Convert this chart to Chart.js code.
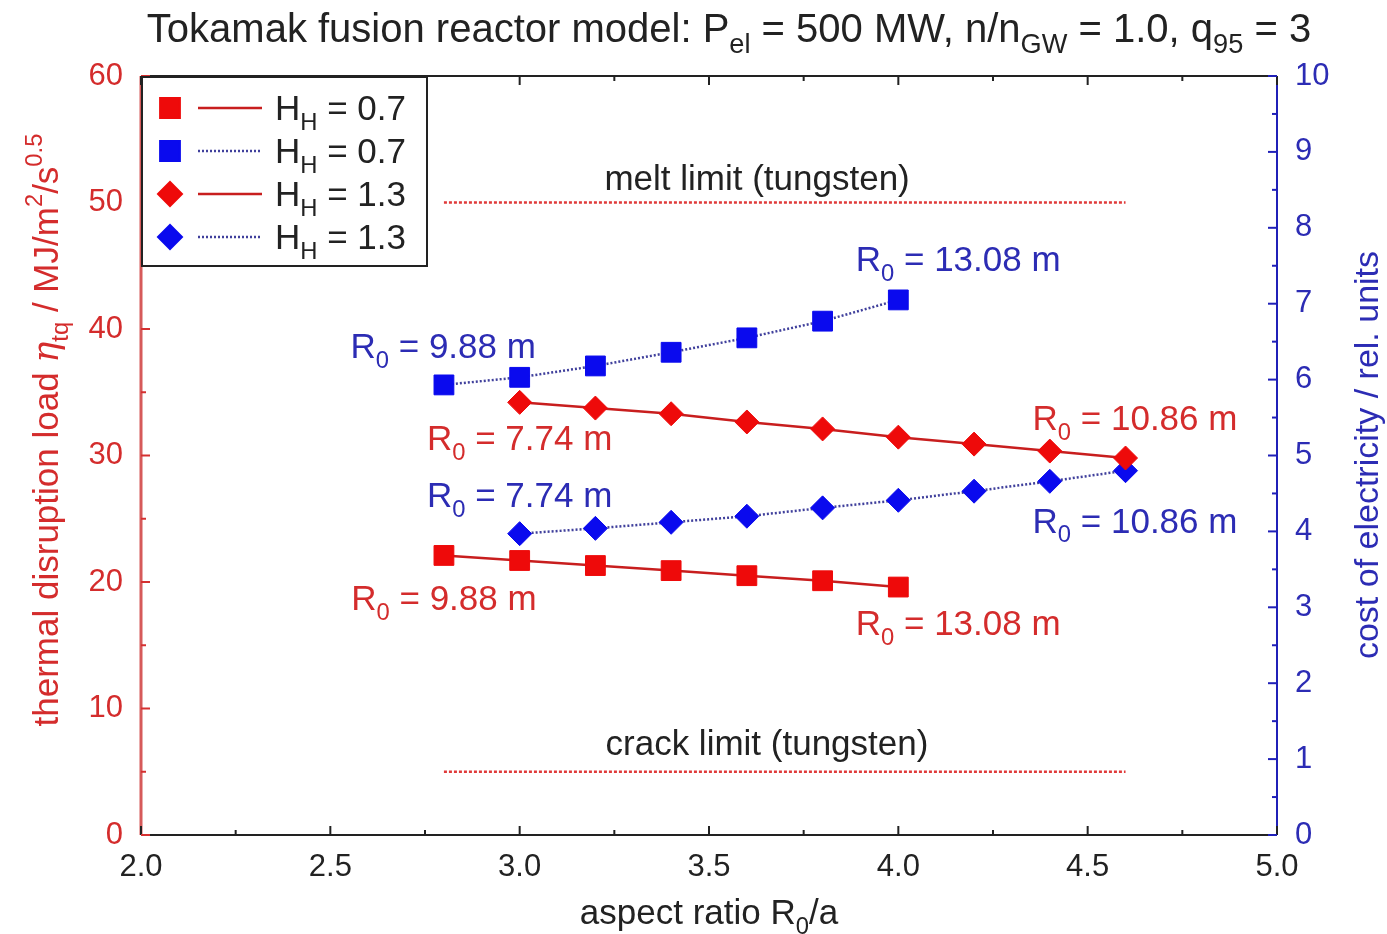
<!DOCTYPE html>
<html>
<head>
<meta charset="utf-8">
<script src="https://cdn.jsdelivr.net/npm/chart.js@4/dist/chart.umd.min.js"></script>
<style>
  html, body { margin: 0; padding: 0; background: #fff; }
  #wrap { width: 1387px; height: 934px; }
</style>
</head>
<body>
<div id="wrap"><canvas id="c" width="1387" height="934"></canvas></div>
<script>
// aspect ratio values (x) and results for the two confinement cases
const aspectSq = [2.8, 3.0, 3.2, 3.4, 3.6, 3.8, 4.0];          // H_H = 0.7
const loadSq   = [22.1, 21.7, 21.3, 20.9, 20.5, 20.1, 19.6];   // MJ/m^2/s^0.5
const costSq   = [5.93, 6.03, 6.18, 6.36, 6.55, 6.77, 7.05];   // rel. units

const aspectDi = [3.0, 3.2, 3.4, 3.6, 3.8, 4.0, 4.2, 4.4, 4.6]; // H_H = 1.3
const loadDi   = [34.2, 33.75, 33.3, 32.65, 32.1, 31.45, 30.9, 30.35, 29.8];
const costDi   = [3.97, 4.04, 4.12, 4.2, 4.31, 4.41, 4.53, 4.66, 4.8];

const limitX = [2.8, 4.6];
const meltLimit = 50;
const crackLimit = 5;

// text annotations: [parts, x, y (left axis units), colour key]
const notes = [
  [[['melt limit (tungsten)', 0]], 3.627, 52.0, 'k'],
  [[['crack limit (tungsten)', 0]], 3.653, 7.3, 'k'],
  [[['R', 0], ['0', -1], [' = 13.08 m', 0]], 4.158, 45.6, 'b'],
  [[['R', 0], ['0', -1], [' = 9.88 m', 0]], 2.798, 38.7, 'b'],
  [[['R', 0], ['0', -1], [' = 7.74 m', 0]], 3.0, 31.4, 'r'],
  [[['R', 0], ['0', -1], [' = 10.86 m', 0]], 4.625, 33.0, 'r'],
  [[['R', 0], ['0', -1], [' = 7.74 m', 0]], 3.0, 26.9, 'b'],
  [[['R', 0], ['0', -1], [' = 10.86 m', 0]], 4.625, 24.9, 'b'],
  [[['R', 0], ['0', -1], [' = 9.88 m', 0]], 2.80, 18.8, 'r'],
  [[['R', 0], ['0', -1], [' = 13.08 m', 0]], 4.158, 16.8, 'r']
];

const FONT = '"Liberation Sans", Arial, sans-serif';
const RED = '#ee0a0a';
const BLUE = '#0a0aee';
const RED_TXT = '#d42c2c';
const BLUE_TXT = '#2c2cb4';
const TXT = '#222222';
const colours = { k: TXT, r: RED_TXT, b: BLUE_TXT };

function pts(xs, ys) {
  return xs.map((x, i) => ({ x, y: ys[i] }));
}

// parts = [[text, -1 sub | 0 | 1 sup | 2 italic greek], ...]
function partFont(m, size) {
  if (m === 2) return `italic ${size}px "DejaVu Serif", serif`;
  return `${m ? size * 0.68 : size}px ${FONT}`;
}

function richWidth(ctx, parts, size) {
  let w = 0;
  parts.forEach(([t, m]) => {
    ctx.font = partFont(m, size);
    w += ctx.measureText(t).width;
  });
  return w;
}

function drawRich(ctx, parts, x, y, size, color, align) {
  const w = richWidth(ctx, parts, size);
  let cx = align === 'center' ? x - w / 2 : align === 'right' ? x - w : x;
  ctx.fillStyle = color;
  ctx.textBaseline = 'alphabetic';
  ctx.textAlign = 'left';
  parts.forEach(([t, m]) => {
    ctx.font = partFont(m, size);
    const dy = m === -1 ? size * 0.28 : m === 1 ? -size * 0.45 : 0;
    ctx.fillText(t, cx, y + dy);
    cx += ctx.measureText(t).width;
  });
}

const frame = {
  id: 'frame',
  afterDraw(chart) {
    const ctx = chart.ctx;
    const { left, right, top, bottom } = chart.chartArea;
    const xs = chart.scales.x, yl = chart.scales.y, yr = chart.scales.y1;
    ctx.save();

    // frame lines
    ctx.lineWidth = 2;
    ctx.strokeStyle = '#222';
    ctx.beginPath();
    ctx.moveTo(left, top); ctx.lineTo(right, top);
    ctx.moveTo(left, bottom); ctx.lineTo(right, bottom);
    ctx.stroke();
    ctx.strokeStyle = '#d65a5a';
    ctx.lineWidth = 3;
    ctx.beginPath(); ctx.moveTo(left, top); ctx.lineTo(left, bottom); ctx.stroke();
    ctx.strokeStyle = '#2020b8';
    ctx.lineWidth = 2;
    ctx.beginPath(); ctx.moveTo(right, top); ctx.lineTo(right, bottom); ctx.stroke();

    // inward ticks
    ctx.lineWidth = 2;
    ctx.strokeStyle = '#222';
    for (let v = 2; v <= 5.001; v += 0.25) {
      const px = xs.getPixelForValue(v);
      const len = Math.abs(v * 2 - Math.round(v * 2)) < 1e-6 ? 9 : 5;
      ctx.beginPath();
      ctx.moveTo(px, bottom); ctx.lineTo(px, bottom - len);
      ctx.moveTo(px, top); ctx.lineTo(px, top + len);
      ctx.stroke();
    }
    ctx.strokeStyle = '#d43030';
    for (let v = 0; v <= 60; v += 5) {
      const py = yl.getPixelForValue(v);
      const len = v % 10 === 0 ? 9 : 5;
      ctx.beginPath(); ctx.moveTo(left, py); ctx.lineTo(left + len, py); ctx.stroke();
    }
    ctx.strokeStyle = '#2020b8';
    for (let v = 0; v <= 10; v += 0.5) {
      const py = yr.getPixelForValue(v);
      const len = v % 1 === 0 ? 9 : 5;
      ctx.beginPath(); ctx.moveTo(right, py); ctx.lineTo(right - len, py); ctx.stroke();
    }

    // title
    drawRich(ctx, [
      ['Tokamak fusion reactor model: P', 0], ['el', -1], [' = 500 MW, n/n', 0],
      ['GW', -1], [' = 1.0, q', 0], ['95', -1], [' = 3', 0]
    ], 729, 42, 40, TXT, 'center');

    // axis titles
    drawRich(ctx, [['aspect ratio R', 0], ['0', -1], ['/a', 0]], 709, 924, 35, TXT, 'center');
    ctx.save();
    ctx.translate(58, 430);
    ctx.rotate(-Math.PI / 2);
    drawRich(ctx, [
      ['thermal disruption load ', 0], ['\u03b7', 2], ['tq', -1], [' / MJ/m', 0], ['2', 1], ['/s', 0], ['0.5', 1]
    ], 0, 0, 35, RED_TXT, 'center');
    ctx.restore();
    ctx.save();
    ctx.translate(1378, 455);
    ctx.rotate(-Math.PI / 2);
    drawRich(ctx, [['cost of electricity / rel. units', 0]], 0, 0, 34, BLUE_TXT, 'center');
    ctx.restore();

    // annotations
    notes.forEach(([parts, x, y, c]) => {
      const size = 35;
      drawRich(ctx, parts, xs.getPixelForValue(x), yl.getPixelForValue(y) + size * 0.36, size, colours[c], 'center');
    });

    // legend box
    const lx = left, ly = top, lw = 287, lh = 191;
    ctx.fillStyle = '#fff';
    ctx.fillRect(lx, ly, lw, lh);
    ctx.strokeStyle = '#222';
    ctx.lineWidth = 2;
    ctx.strokeRect(lx + 1, ly + 1, lw - 2, lh - 2);
    const rows = [
      [0, '0.7'], [1, '0.7'], [2, '1.3'], [3, '1.3']
    ];
    rows.forEach(([di, val], i) => {
      const ds = chart.data.datasets[di];
      const ry = ly + 32 + i * 43;
      ctx.save();
      ctx.strokeStyle = ds.borderColor;
      ctx.lineWidth = ds.borderWidth;
      ctx.setLineDash(ds.borderDash || []);
      ctx.beginPath(); ctx.moveTo(lx + 57, ry); ctx.lineTo(lx + 121, ry); ctx.stroke();
      ctx.restore();
      ctx.fillStyle = ds.pointBackgroundColor;
      ctx.strokeStyle = ds.pointBackgroundColor;
      Chart.helpers.drawPoint(ctx, {
        pointStyle: ds.pointStyle, radius: ds.pointRadius, borderWidth: 1
      }, lx + 29, ry);
      drawRich(ctx, [['H', 0], ['H', -1], [' = ' + val, 0]], lx + 134, ry + 12, 35, TXT, 'left');
    });

    ctx.restore();
  }
};

new Chart(document.getElementById('c'), {
  type: 'scatter',
  data: {
    datasets: [
      {
        label: 'H_H = 0.7 load',
        data: pts(aspectSq, loadSq),
        yAxisID: 'y',
        showLine: true,
        borderColor: '#c81e1e',
        borderWidth: 2.5,
        pointStyle: 'rect',
        pointRadius: 14,
        pointBackgroundColor: RED,
        pointBorderColor: RED,
        pointBorderWidth: 1
      },
      {
        label: 'H_H = 0.7 cost',
        data: pts(aspectSq, costSq),
        yAxisID: 'y1',
        showLine: true,
        borderColor: '#40409c',
        borderWidth: 2.5,
        borderDash: [2, 2],
        pointStyle: 'rect',
        pointRadius: 14,
        pointBackgroundColor: BLUE,
        pointBorderColor: BLUE,
        pointBorderWidth: 1
      },
      {
        label: 'H_H = 1.3 load',
        data: pts(aspectDi, loadDi),
        yAxisID: 'y',
        showLine: true,
        borderColor: '#c81e1e',
        borderWidth: 2.5,
        pointStyle: 'rectRot',
        pointRadius: 12,
        pointBackgroundColor: RED,
        pointBorderColor: RED,
        pointBorderWidth: 1
      },
      {
        label: 'H_H = 1.3 cost',
        data: pts(aspectDi, costDi),
        yAxisID: 'y1',
        showLine: true,
        borderColor: '#40409c',
        borderWidth: 2.5,
        borderDash: [2, 2],
        pointStyle: 'rectRot',
        pointRadius: 12,
        pointBackgroundColor: BLUE,
        pointBorderColor: BLUE,
        pointBorderWidth: 1
      },
      {
        label: 'melt limit',
        data: limitX.map((x) => ({ x, y: meltLimit })),
        yAxisID: 'y',
        showLine: true,
        borderColor: '#e03a3a',
        borderWidth: 2.5,
        borderDash: [3, 2],
        pointRadius: 0
      },
      {
        label: 'crack limit',
        data: limitX.map((x) => ({ x, y: crackLimit })),
        yAxisID: 'y',
        showLine: true,
        borderColor: '#e03a3a',
        borderWidth: 2.5,
        borderDash: [3, 2],
        pointRadius: 0
      }
    ]
  },
  options: {
    responsive: false,
    animation: false,
    devicePixelRatio: 1,
    layout: { padding: { top: 76, left: 0, right: 0, bottom: 0 } },
    plugins: {
      legend: { display: false },
      title: { display: false },
      tooltip: { enabled: false }
    },
    scales: {
      x: {
        type: 'linear',
        min: 2,
        max: 5,
        grid: { display: false, drawTicks: false },
        border: { display: false },
        ticks: {
          stepSize: 0.5,
          padding: 14,
          color: TXT,
          font: { family: FONT, size: 31 },
          callback: (v) => v.toFixed(1)
        },
        afterFit: (s) => { s.height = 99; }
      },
      y: {
        position: 'left',
        min: 0,
        max: 60,
        grid: { display: false, drawTicks: false },
        border: { display: false },
        ticks: {
          stepSize: 10,
          padding: 18,
          color: RED_TXT,
          font: { family: FONT, size: 31 }
        },
        afterFit: (s) => { s.width = 141; }
      },
      y1: {
        position: 'right',
        min: 0,
        max: 10,
        grid: { display: false, drawTicks: false },
        border: { display: false },
        ticks: {
          stepSize: 1,
          padding: 18,
          color: BLUE_TXT,
          font: { family: FONT, size: 31 }
        },
        afterFit: (s) => { s.width = 110; }
      }
    }
  },
  plugins: [frame]
});
</script>
</body>
</html>
